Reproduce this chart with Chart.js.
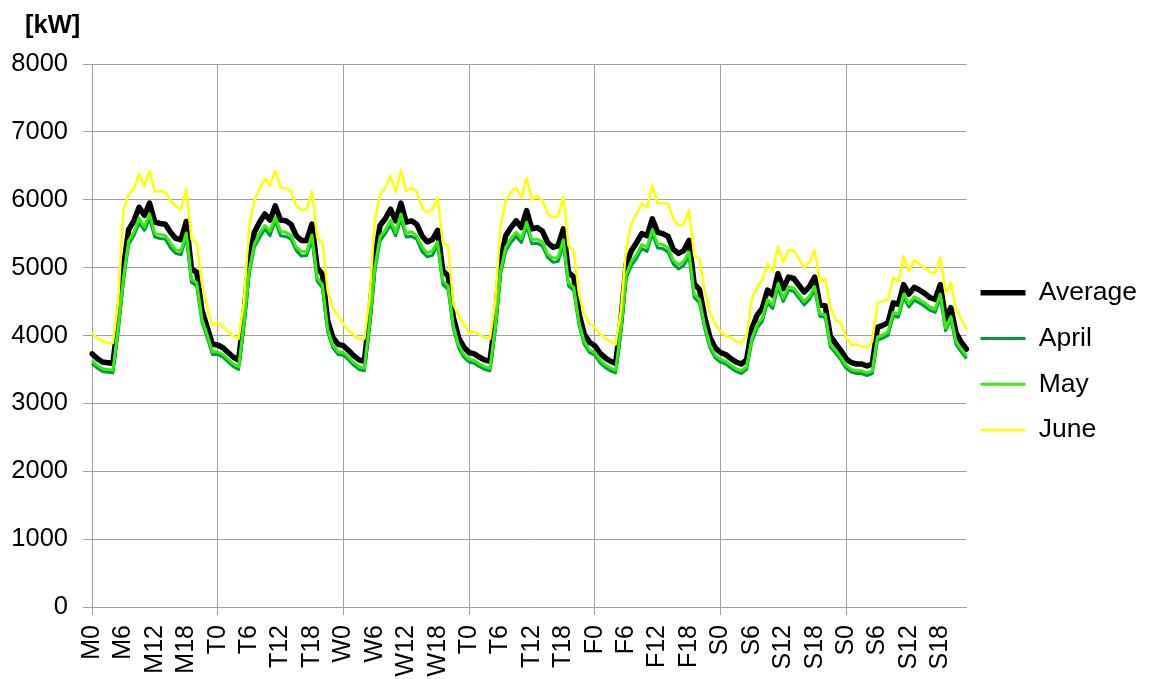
<!DOCTYPE html>
<html><head><meta charset="utf-8">
<script src="https://cdn.jsdelivr.net/npm/chart.js@4.4.1/dist/chart.umd.min.js"></script>
<style>html,body{margin:0;padding:0;background:#fff;}canvas{display:block;}</style>
</head><body>
<canvas id="c" width="1154" height="679"></canvas>
<script>
const dayLetters = ['M','T','W','T','F','S','S'];
const hoursPerDay = 24;
const labelEvery = 6;
const unitLabel = '[kW]';
const seriesNames = ['Average','April','May','June'];

const average = [
3730,3660,3610,3600,3590,4250,5000,5560,5690,5890,5770,5950,5670,5650,5640,5520,5430,5410,5680,4980,4930,4370,4120,3870,
3860,3820,3750,3680,3640,4300,5100,5520,5670,5790,5700,5910,5700,5690,5640,5470,5400,5400,5640,5000,4900,4220,3970,3870,
3850,3780,3700,3640,3620,4300,5150,5620,5720,5860,5690,5950,5670,5690,5640,5470,5380,5410,5550,4950,4880,4270,3970,3830,
3750,3730,3680,3640,3620,4250,5100,5470,5590,5690,5590,5840,5570,5590,5540,5370,5300,5320,5570,4930,4860,4320,4020,3900,
3850,3740,3670,3620,3590,4220,5050,5250,5370,5500,5470,5720,5520,5500,5460,5270,5210,5250,5400,4760,4680,4270,3970,3820,
3750,3720,3660,3610,3580,3640,4100,4300,4400,4670,4590,4910,4690,4860,4840,4740,4640,4720,4860,4450,4440,3990,3880,3780,
3660,3600,3580,3580,3550,3580,4120,4150,4190,4480,4460,4750,4610,4710,4670,4620,4560,4530,4750,4240,4410,4040,3900,3800
];
const april = [
3590,3520,3470,3460,3450,4070,4800,5340,5470,5660,5550,5720,5450,5430,5420,5290,5210,5190,5460,4780,4730,4200,3970,3720,
3720,3680,3610,3540,3500,4120,4900,5300,5440,5570,5470,5690,5470,5460,5420,5250,5170,5180,5410,4800,4700,4050,3820,3720,
3710,3640,3560,3500,3480,4120,4950,5390,5500,5630,5470,5720,5450,5460,5420,5240,5160,5180,5330,4750,4680,4100,3820,3680,
3610,3590,3540,3500,3480,4070,4900,5240,5370,5460,5370,5610,5350,5360,5320,5150,5080,5090,5340,4730,4660,4150,3870,3750,
3710,3600,3530,3480,3450,4040,4850,5030,5140,5280,5240,5500,5290,5280,5230,5050,4980,5030,5170,4560,4480,4100,3820,3670,
3610,3580,3520,3470,3440,3500,3910,4110,4210,4480,4400,4720,4500,4670,4650,4550,4450,4530,4670,4280,4270,3830,3740,3640,
3520,3460,3440,3440,3410,3440,3930,3960,4000,4290,4270,4560,4420,4520,4480,4430,4370,4340,4560,4070,4240,3870,3760,3660
];
const may = [
3630,3560,3510,3500,3490,4120,4850,5400,5520,5730,5600,5790,5500,5490,5470,5360,5260,5250,5510,4830,4780,4240,4010,3760,
3760,3720,3650,3580,3540,4170,4950,5350,5510,5620,5540,5740,5540,5520,5480,5300,5240,5230,5480,4850,4750,4090,3860,3760,
3750,3680,3600,3540,3520,4170,5000,5460,5550,5700,5520,5790,5500,5530,5470,5310,5210,5250,5380,4800,4730,4140,3860,3720,
3650,3630,3580,3540,3520,4120,4950,5300,5430,5520,5430,5670,5410,5420,5380,5200,5140,5150,5410,4780,4710,4190,3910,3790,
3750,3640,3570,3520,3490,4090,4900,5090,5200,5340,5300,5560,5350,5340,5290,5110,5040,5090,5230,4610,4530,4140,3860,3710,
3650,3620,3560,3510,3480,3540,3960,4160,4260,4530,4450,4770,4550,4720,4700,4600,4500,4580,4720,4320,4310,3870,3780,3680,
3560,3500,3480,3480,3450,3480,3980,4010,4050,4340,4320,4610,4470,4570,4530,4480,4420,4390,4610,4110,4280,3910,3800,3700
];
const june = [
4040,3960,3920,3890,3890,4500,5850,6080,6160,6380,6200,6430,6120,6130,6110,5990,5900,5860,6150,5420,5370,4760,4420,4150,
4190,4130,4050,3990,3950,4500,5600,5990,6160,6310,6210,6430,6180,6170,6130,5910,5850,5860,6120,5450,5370,4660,4410,4290,
4170,4070,4010,3950,3950,4550,5700,6080,6180,6350,6110,6440,6120,6180,6120,5890,5810,5860,6030,5370,5320,4460,4290,4170,
4030,4060,4010,3970,3950,4500,5600,5990,6110,6180,6030,6320,6000,6060,5990,5790,5740,5760,6040,5320,5250,4610,4320,4170,
4120,4020,3960,3910,3870,4360,5300,5650,5790,5950,5890,6210,5950,5950,5940,5720,5620,5640,5850,5180,5130,4660,4340,4170,
4060,4000,3970,3910,3890,4000,4540,4720,4810,5060,4940,5310,5080,5260,5250,5130,5000,5080,5260,4790,4840,4420,4230,4190,
3970,3860,3870,3840,3820,3920,4480,4510,4530,4850,4800,5170,4950,5110,5050,5000,4930,4930,5150,4630,4780,4390,4240,4090
];

const labels = [];
dayLetters.forEach(d => { for (let h = 0; h < hoursPerDay; h++) labels.push(d + h); });

const FONT = '"Liberation Sans", Arial, sans-serif';
const GRID = '#a0a0a0';

const unitPlugin = {
  id: 'unitLabel',
  afterDraw(chart) {
    const ctx = chart.ctx;
    ctx.save();
    ctx.font = 'bold 25.5px ' + FONT;
    ctx.fillStyle = '#000';
    ctx.textAlign = 'left';
    ctx.textBaseline = 'middle';
    ctx.fillText(unitLabel, 25, 26);
    ctx.restore();
  }
};

new Chart(document.getElementById('c'), {
  type: 'line',
  data: {
    labels: labels,
    datasets: [
      { label: seriesNames[0], data: average, borderColor: '#000000', backgroundColor: '#000000', borderWidth: 5.5, borderJoinStyle: 'round', borderCapStyle: 'round', order: 3 },
      { label: seriesNames[1], data: april, borderColor: '#00993d', backgroundColor: '#00993d', borderWidth: 3, borderJoinStyle: 'round', order: 2 },
      { label: seriesNames[2], data: may, borderColor: '#33ee11', backgroundColor: '#33ee11', borderWidth: 3, borderJoinStyle: 'round', order: 1 },
      { label: seriesNames[3], data: june, borderColor: '#ffff00', backgroundColor: '#ffff00', borderWidth: 2.5, borderJoinStyle: 'round', order: 0 }
    ]
  },
  options: {
    responsive: false,
    animation: false,
    events: [],
    devicePixelRatio: 1,
    elements: { point: { radius: 0 }, line: { tension: 0 } },
    layout: { padding: { left: 11, right: 7, top: 64, bottom: 0 } },
    plugins: {
      tooltip: { enabled: false },
      legend: {
        position: 'right',
        align: 'center',
        fullSize: false,
        title: { display: true, text: '', font: { size: 10 }, padding: { top: 45, bottom: 0 } },
        labels: {
          usePointStyle: true,
          pointStyle: 'line',
          pointStyleWidth: 45,
          padding: 14,
          color: '#000',
          font: { family: FONT, size: 26.5 },
          sort: (a, b) => a.datasetIndex - b.datasetIndex,
          generateLabels: chart => Chart.defaults.plugins.legend.labels.generateLabels(chart)
            .map(item => Object.assign(item, { text: [item.text] }))
        }
      }
    },
    scales: {
      x: {
        type: 'category',
        offset: false,
        afterFit: s => { s.height = 72; },
        grid: {
          color: c => (c.index % hoursPerDay === 0 ? GRID : 'rgba(0,0,0,0)'),
          lineWidth: 1,
          tickLength: 8,
          drawTicks: true
        },
        border: { color: GRID, width: 1 },
        ticks: {
          autoSkip: false,
          maxRotation: 90,
          minRotation: 90,
          padding: 10,
          color: '#000',
          font: { family: FONT, size: 25 },
          callback: (v, i) => (i % labelEvery === 0 ? labels[i] : '')
        }
      },
      y: {
        min: 0,
        max: 8000,
        afterFit: s => { s.width = 81; },
        ticks: { stepSize: 1000, padding: 15, color: '#000', font: { family: FONT, size: 25.5 }, callback: v => String(v) },
        grid: { color: GRID, lineWidth: 1, tickLength: 9 },
        border: { color: GRID, width: 1 }
      }
    }
  },
  plugins: [unitPlugin]
});
</script>
</body></html>
